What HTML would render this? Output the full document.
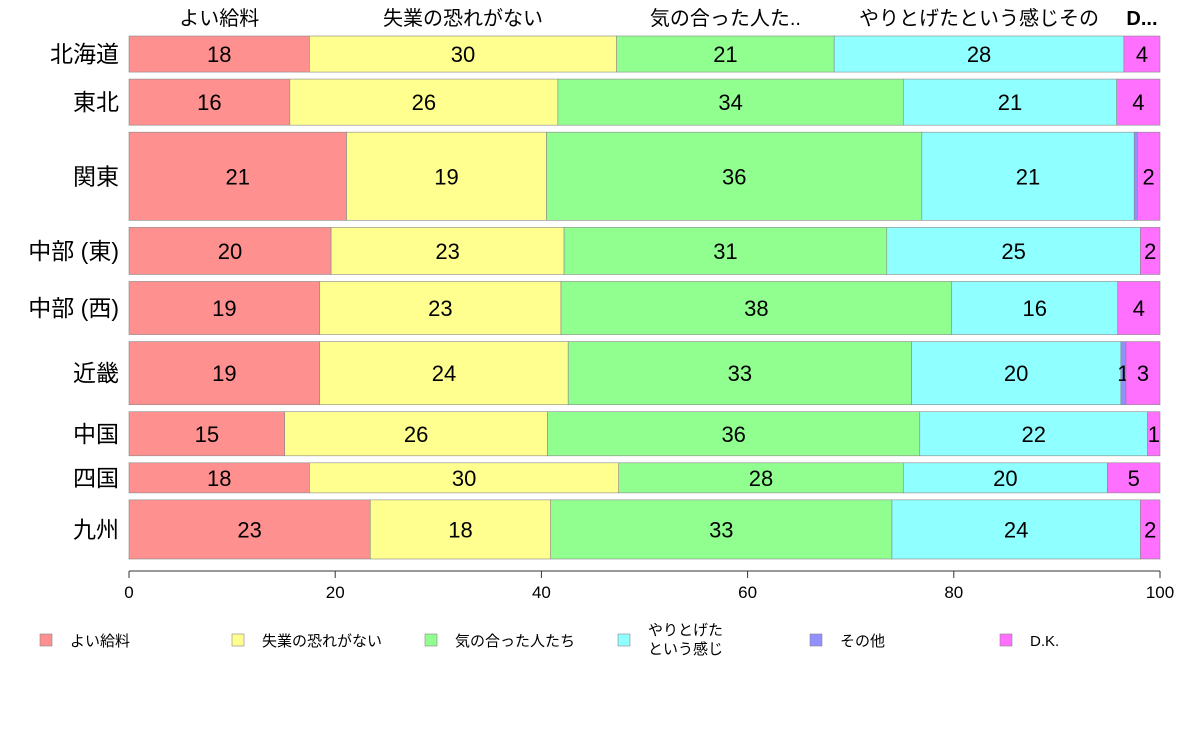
<!DOCTYPE html>
<html><head><meta charset="utf-8">
<style>
body{margin:0;background:#fff;}
svg text{font-family:"Liberation Sans","Noto Sans CJK JP",sans-serif;}
</style></head>
<body>
<svg id="chart" width="1188" height="736" viewBox="0 0 1188 736" xmlns="http://www.w3.org/2000/svg"></svg>
<script>
const categories=["北海道","東北","関東","中部 (東)","中部 (西)","近畿","中国","四国","九州"];
const sampleSizes=[36,46,88,47,53,63,44,30,59];
const seriesNames=["よい給料","失業の恐れがない","気の合った人たち","やりとげたという感じ","その他","D.K."];
const legendLabels=[["よい給料"],["失業の恐れがない"],["気の合った人たち"],["やりとげた","という感じ"],["その他"],["D.K."]];
const headerLabels=["よい給料","失業の恐れがない","気の合った人た..","やりとげたという感じその","D..."];
const sKyuryo=[17.5,15.6,21.1,19.6,18.5,18.5,15.1,17.5,23.4];
const sShitsugyo=[29.8,26.0,19.4,22.6,23.4,24.1,25.5,30.0,17.5];
const sNakama=[21.1,33.5,36.4,31.3,37.9,33.3,36.1,27.6,33.1];
const sYaritoge=[28.1,20.7,20.6,24.6,16.1,20.3,22.1,19.8,24.1];
const sSonota=[0,0,0.3,0,0,0.5,0,0,0];
const sDK=[3.5,4.2,2.2,1.9,4.1,3.3,1.2,5.1,1.9];
const xTicks=[0,20,40,60,80,100];
const series=[sKyuryo,sShitsugyo,sNakama,sYaritoge,sSonota,sDK];
const colors=["#ff9090","#ffff90","#90ff90","#90ffff","#9090ff","#ff70ff"];
const svg=document.getElementById('chart');
const NS="http://www.w3.org/2000/svg";
function mk(tag,attrs,parent){const e=document.createElementNS(NS,tag);for(const k in attrs)e.setAttribute(k,attrs[k]);(parent||svg).appendChild(e);return e;}
const x0=129,x1=1160,yTop=36,yBot=559,gap=7;
const xs=v=>x0+(x1-x0)*v/100;
const totalH=yBot-yTop-gap*(categories.length-1);
const sumN=sampleSizes.reduce((a,b)=>a+b,0);
let y=yTop;
categories.forEach((c,i)=>{
  const h=totalH*sampleSizes[i]/sumN;
  const g=mk('g',{});
  
  
  let cum=0;
  series.forEach((s,j)=>{
    const v=s[i];const a=xs(cum),b=xs(cum+v);
    const r=mk('rect',{x:a,y:y,width:Math.max(b-a,0),height:h,fill:colors[j],stroke:'#888','stroke-width':0.6},g);
    
    
    const lab=Math.round(v);
    if(lab>=1){
      const t=mk('text',{x:(a+b)/2,y:y+h/2+8,'text-anchor':'middle','font-size':22,fill:'#000'},g);
      
      
      t.textContent=lab;
    }
    cum+=v;
  });
  const t=mk('text',{x:119,y:y+h/2+8,'text-anchor':'end','font-size':23},g);
  
  
  t.textContent=c;
  y+=h+gap;
});
// header labels from first row
let cum=0;
const hx=[];
series.forEach(s=>{hx.push(xs(cum+s[0]/2));cum+=s[0];});
const hpos=[hx[0],hx[1],hx[2],hx[3],hx[5]];
headerLabels.forEach((l,k)=>{
  const t=mk('text',{x:hpos[k],y:25,'text-anchor':'middle','font-size':20,'font-weight':k==4?'bold':'normal'});
  
  
  t.textContent=l;
});
// axis
const ax=mk('line',{x1:x0,x2:x1,y1:571,y2:571,stroke:'#333'});


xTicks.forEach(v=>{
  const l=mk('line',{x1:xs(v),x2:xs(v),y1:571,y2:578,stroke:'#333'});
  
  
  const t=mk('text',{x:xs(v),y:598,'text-anchor':'middle','font-size':17});
  
  
  t.textContent=v;
});
// legend
const lx=[40,232,425,618,810,1000];
legendLabels.forEach((ls,k)=>{
  const g=mk('g',{});
  
  
  mk('rect',{x:lx[k],y:634,width:12,height:12,fill:colors[k],stroke:'#888','stroke-width':0.6},g);
  ls.forEach((s,m)=>{
    const t=mk('text',{x:lx[k]+30,y:ls.length>1?635+m*19:646,'font-size':15},g);
    t.textContent=s;
  });
});
</script>
</body></html>
